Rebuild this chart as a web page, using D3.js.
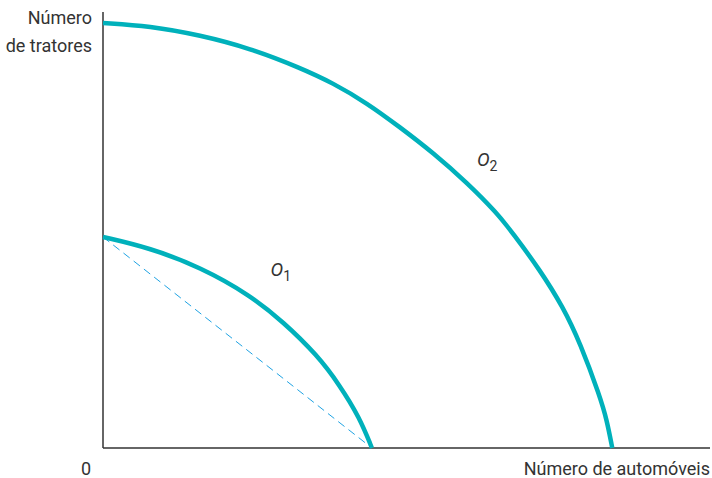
<!DOCTYPE html>
<html>
<head>
<meta charset="utf-8">
<script src="https://cdn.jsdelivr.net/npm/d3@7"></script>
<style>
  body { margin: 0; background: #fff; }
  text { font-family: Roboto, "DejaVu Sans Condensed", sans-serif; fill: #333; }
</style>
</head>
<body>
<script>
// frontier points (arbitrary units, 0-100)
var o1_x = [0, 7.7, 16.0, 24.2, 29.7, 35.3, 39.0, 42.3, 44.3];
var o1_y = [48.4, 45.9, 41.5, 35.1, 28.9, 21.3, 14.4, 6.9, 0];
var o2_x = [0, 7.7, 16.0, 24.2, 32.5, 37.9, 43.5, 48.9, 54.4, 60.0, 64.9, 67.5, 72.0, 75.8, 78.6, 81.9, 83.0, 83.9];
var o2_y = [97.5, 96.8, 94.7, 91.7, 87.2, 83.7, 79.1, 73.6, 67.7, 60.8, 53.9, 49.3, 40.8, 32.3, 24.1, 11.7, 6.4, 0];
var labels = {y: ["Número", "de tratores"], x: "Número de automóveis", origin: "0"};

var width = 712, height = 478;
var margin = {top: 12, right: 2, bottom: 30, left: 103};

var svg = d3.select("body").append("svg")
    .attr("width", width)
    .attr("height", height);

var x = d3.scaleLinear().domain([0, 100]).range([margin.left, width - margin.right]);
var y = d3.scaleLinear().domain([0, 100]).range([height - margin.bottom, margin.top]);

var teal = "#00b1bb";

// axes
svg.append("line")
    .attr("x1", x(0)).attr("y1", y(0))
    .attr("x2", x(0)).attr("y2", y(100))
    .attr("stroke", "#333").attr("stroke-width", 1.5);
svg.append("line")
    .attr("x1", x(0)).attr("y1", y(0))
    .attr("x2", x(100)).attr("y2", y(0))
    .attr("stroke", "#333").attr("stroke-width", 1.5);

var line = d3.line()
    .x(function(d) { return x(d[0]); })
    .y(function(d) { return y(d[1]); })
    .curve(d3.curveBasis);

// dashed chord under O1
svg.append("line")
    .attr("x1", x(o1_x[0])).attr("y1", y(o1_y[0]))
    .attr("x2", x(o1_x[o1_x.length - 1])).attr("y2", y(o1_y[o1_y.length - 1]))
    .attr("stroke", "#1fa3e3").attr("stroke-width", 1)
    .attr("stroke-dasharray", "8,5");

svg.append("path")
    .datum(d3.zip(o1_x, o1_y))
    .attr("d", line)
    .attr("fill", "none").attr("stroke", teal).attr("stroke-width", 4.5);

svg.append("path")
    .datum(d3.zip(o2_x, o2_y))
    .attr("d", line)
    .attr("fill", "none").attr("stroke", teal).attr("stroke-width", 4.5);

// curve labels
function curveLabel(px, py, sub) {
  var t = svg.append("text")
      .attr("x", px).attr("y", py)
      .style("font-size", "19px")
      .style("font-style", "italic");
  t.append("tspan").text("O");
  t.append("tspan").attr("dy", 5).style("font-size", "14px").style("font-style", "normal").text(sub);
}
curveLabel(x(27.6), y(39.5), "1");
curveLabel(x(61.6), y(64.7), "2");

// axis titles
svg.selectAll("text.ylab")
    .data(labels.y)
  .enter().append("text")
    .attr("class", "ylab")
    .attr("x", 92)
    .attr("y", function(d, i) { return 24 + i * 28; })
    .attr("text-anchor", "end")
    .style("font-size", "18px")
    .text(function(d) { return d; });

svg.append("text")
    .attr("x", 710).attr("y", 475)
    .attr("text-anchor", "end")
    .style("font-size", "18px")
    .text(labels.x);

svg.append("text")
    .attr("x", 81).attr("y", 475)
    .style("font-size", "18px")
    .text(labels.origin);
</script>
</body>
</html>
